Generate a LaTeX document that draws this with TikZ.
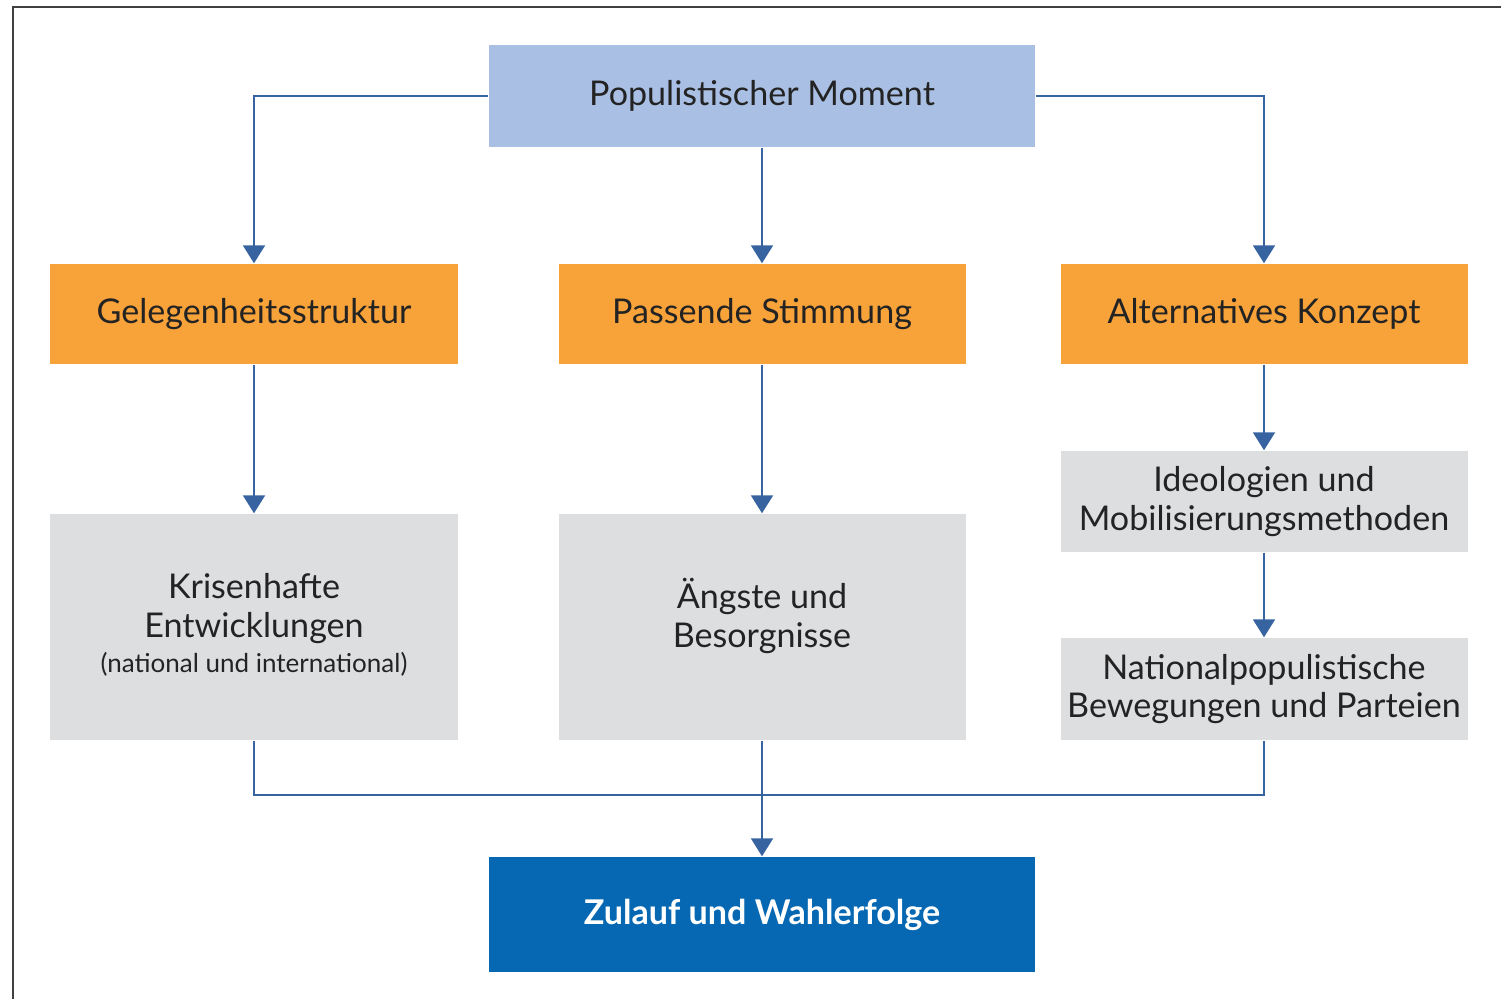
\documentclass[tikz,border=0pt]{standalone}
\usepackage{fontspec}
\setmainfont{Lato}
\usepackage{tikz}
\usepackage{xcolor}
\usetikzlibrary{arrows.meta, positioning, calc}

\definecolor{momentblue}{RGB}{169,191,228}
\definecolor{factororange}{RGB}{248,163,58}
\definecolor{effectgrey}{RGB}{221,222,224}
\definecolor{resultblue}{RGB}{6,104,178}
\definecolor{linkblue}{RGB}{55,100,160}
\definecolor{textdark}{RGB}{35,35,35}

\tikzset{
  box/.style={rectangle, inner sep=1pt, align=center, text=textdark, font=\fontsize{9.7}{11}\selectfont},
  moment/.style={box, fill=momentblue, minimum width=5.46cm, minimum height=1.02cm},
  factor/.style={box, fill=factororange, minimum width=4.07cm, minimum height=1.0cm},
  effect/.style={box, fill=effectgrey, minimum width=4.07cm},
  result/.style={box, fill=resultblue, text=white, minimum width=5.46cm, minimum height=1.15cm, font=\fontsize{9.7}{11}\selectfont\bfseries},
  link/.style={draw=linkblue, line width=0.6pt},
  arrow/.style={link, -{Triangle[width=2.2mm,length=1.8mm]}}
}

\begin{document}
\begin{tikzpicture}
\useasboundingbox (0,0) rectangle (15.01,9.99);
% frame
\draw[line width=0.8pt, black!75] (0.13,0) -- (0.13,9.92) -- (15.01,9.92);

% top
\node[moment] (moment) at (7.62,9.03) {Populistischer Moment};

% three factors
\node[factor] (chance) at (2.54,6.85) {Gelegenheitsstruktur};
\node[factor] (mood) at (7.62,6.85) {Passende Stimmung};
\node[factor] (concept) at (12.64,6.85) {Alternatives Konzept};

% effects
\node[effect, minimum height=2.26cm] (crisis) at (2.54,3.72)
  {\mbox{}\\[-5pt]Krisenhafte\\Entwicklungen\\[-1pt]{\fontsize{7.4}{9}\selectfont (national und international)}};
\node[effect, minimum height=2.26cm] (fear) at (7.62,3.72) {Ängste und\\Besorgnisse\\[-3pt]\mbox{}};
\node[effect, minimum height=1.01cm] (ideology) at (12.64,4.975) {Ideologien und\\Mobilisierungsmethoden};
\node[effect, minimum height=1.02cm] (parties) at (12.64,3.10) {Nationalpopulistische\\Bewegungen und Parteien};

% result
\node[result] (success) at (7.62,0.845) {Zulauf und Wahlerfolge};

% connectors
\draw[arrow] (moment.west) -| (chance.north);
\draw[arrow] (moment.east) -| (concept.north);
\draw[arrow] (moment.south) -- (mood.north);
\draw[arrow] (chance) -- (crisis);
\draw[arrow] (mood) -- (fear);
\draw[arrow] (concept) -- (ideology);
\draw[arrow] (ideology) -- (parties);

\coordinate (join) at (7.62,2.04);
\draw[link] (crisis.south) |- (join) -| (parties.south);
\draw[arrow] (fear.south) -- (success.north -| fear.south);
\end{tikzpicture}
\end{document}
